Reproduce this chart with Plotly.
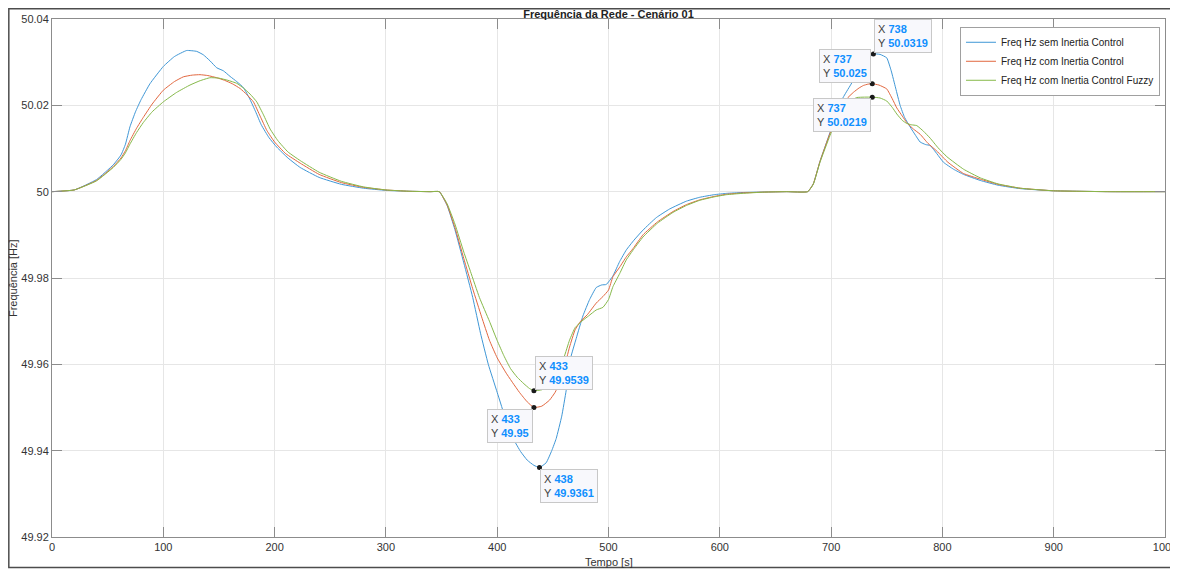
import plotly.graph_objects as go

# Freq Hz sem Inertia Control
t_sem = [0, 20, 40, 55, 62, 66, 70, 75, 80, 88, 100, 110, 121, 130, 136, 142, 148, 154, 160, 166,
         172, 178, 183, 188, 195, 202, 212, 223, 240, 260, 280, 300, 320, 340, 348, 355, 362, 370, 378,
         385, 392, 400, 408, 415, 421, 427, 433, 438, 444, 449, 453, 458, 462, 466, 471, 477, 483,
         489, 494, 498, 504, 510, 516, 523, 531, 543, 555, 570, 582, 595, 606, 620, 636, 660, 679,
         684, 690, 699, 708, 713, 717, 722, 727, 732, 738, 744, 750, 754, 758, 762, 766, 771, 776,
         780, 785, 789, 795, 801, 810, 819, 834, 850, 870, 900, 950, 1000]
f_sem = [50.0000, 50.0004, 50.0028, 50.0062, 50.0085, 50.0110, 50.0150, 50.0185, 50.0213, 50.0250,
         50.0290, 50.0313, 50.0327, 50.0325, 50.0317, 50.0303, 50.0287, 50.0280, 50.0267, 50.0255,
         50.0241, 50.0213, 50.0185, 50.0155, 50.0125, 50.0103, 50.0078, 50.0056, 50.0033, 50.0017,
         50.0008, 50.0003, 50.0001, 50.0000, 50.0000, 49.9968, 49.9912, 49.9835, 49.9755, 49.9672, 49.9600,
         49.9535, 49.9470, 49.9425, 49.9398, 49.9378, 49.9366, 49.9361, 49.9372, 49.9400, 49.9428,
         49.9480, 49.9540, 49.9615, 49.9660, 49.9712, 49.9750, 49.9778, 49.9784, 49.9785, 49.9805,
         49.9838, 49.9865, 49.9888, 49.9911, 49.9940, 49.9960, 49.9978, 49.9987, 49.9993, 49.9996,
         49.9998, 49.9999, 50.0000, 50.0000, 50.0018, 50.0070, 50.0137, 50.0205, 50.0228, 50.0245,
         50.0267, 50.0290, 50.0306, 50.0319, 50.0318, 50.0310, 50.0280, 50.0240, 50.0200, 50.0172,
         50.0150, 50.0130, 50.0115, 50.0109, 50.0107, 50.0088, 50.0068, 50.0052, 50.0040, 50.0026,
         50.0015, 50.0007, 50.0002, 50.0000, 50.0000]

# Freq Hz com Inertia Control
t_com = [0, 20, 40, 55, 62, 66, 70, 76, 82, 90, 100, 110, 118, 126, 133, 140, 148, 155, 162, 169,
         175, 181, 187, 193, 200, 210, 223, 240, 260, 280, 300, 320, 340, 348, 355, 362, 370, 378, 386,
         393, 400, 408, 414, 420, 427, 433, 440, 447, 452, 456, 460, 465, 470, 475, 481, 489, 495,
         500, 504, 510, 516, 522, 531, 544, 558, 570, 582, 595, 606, 620, 640, 660, 679, 684, 690,
         699, 708, 714, 720, 725, 729, 733, 737, 743, 750, 755, 759, 764, 768, 774, 780, 787, 795,
         805, 819, 834, 850, 870, 900, 950, 1000]
f_com = [50.0000, 50.0004, 50.0026, 50.0058, 50.0078, 50.0095, 50.0118, 50.0147, 50.0172, 50.0203,
         50.0235, 50.0255, 50.0266, 50.0270, 50.0271, 50.0269, 50.0264, 50.0258, 50.0250, 50.0239,
         50.0225, 50.0208, 50.0175, 50.0142, 50.0115, 50.0088, 50.0066, 50.0040, 50.0021, 50.0010,
         50.0004, 50.0001, 50.0000, 50.0000, 49.9969, 49.9917, 49.9845, 49.9775, 49.9710, 49.9656, 49.9615,
         49.9580, 49.9557, 49.9535, 49.9513, 49.9500, 49.9503, 49.9517, 49.9535, 49.9557, 49.9590,
         49.9640, 49.9680, 49.9700, 49.9715, 49.9742, 49.9757, 49.9772, 49.9803, 49.9825, 49.9849,
         49.9868, 49.9900, 49.9930, 49.9954, 49.9970, 49.9981, 49.9989, 49.9994, 49.9997, 49.9999,
         50.0000, 50.0000, 50.0018, 50.0070, 50.0135, 50.0192, 50.0215, 50.0230, 50.0240, 50.0246,
         50.0249, 50.0250, 50.0247, 50.0238, 50.0215, 50.0194, 50.0175, 50.0160, 50.0145, 50.0133,
         50.0112, 50.0094, 50.0068, 50.0042, 50.0029, 50.0017, 50.0008, 50.0002, 50.0000, 50.0000]

# Freq Hz com Inertia Control Fuzzy
t_fuzzy = [0, 20, 40, 55, 62, 66, 70, 76, 82, 90, 100, 112, 124, 133, 142, 150, 158, 166, 172, 178,
           184, 190, 196, 203, 212, 223, 240, 260, 280, 300, 320, 340, 348, 355, 362, 370, 376, 384, 393,
           400, 406, 412, 418, 424, 429, 433, 440, 446, 450, 455, 460, 465, 470, 476, 482, 489, 495,
           500, 504, 510, 516, 523, 531, 544, 558, 570, 582, 595, 606, 620, 640, 660, 679, 684, 690,
           699, 708, 715, 723, 730, 737, 744, 750, 755, 759, 764, 768, 772, 777, 783, 789, 796, 804,
           819, 834, 850, 870, 900, 950, 1000]
f_fuzzy = [50.0000, 50.0004, 50.0025, 50.0056, 50.0075, 50.0090, 50.0110, 50.0137, 50.0160, 50.0185,
           50.0208, 50.0230, 50.0247, 50.0257, 50.0264, 50.0263, 50.0258, 50.0251, 50.0240, 50.0226,
           50.0208, 50.0178, 50.0145, 50.0118, 50.0092, 50.0072, 50.0045, 50.0024, 50.0011, 50.0004,
           50.0001, 50.0000, 50.0000, 49.9972, 49.9925, 49.9860, 49.9815, 49.9755, 49.9700, 49.9655, 49.9620,
           49.9590, 49.9570, 49.9555, 49.9544, 49.9539, 49.9541, 49.9550, 49.9562, 49.9585, 49.9616,
           49.9656, 49.9685, 49.9700, 49.9712, 49.9726, 49.9732, 49.9750, 49.9780, 49.9810, 49.9842,
           49.9868, 49.9895, 49.9927, 49.9952, 49.9968, 49.9980, 49.9988, 49.9993, 49.9996, 49.9999,
           50.0000, 50.0000, 50.0017, 50.0068, 50.0130, 50.0185, 50.0206, 50.0218, 50.0219, 50.0219,
           50.0217, 50.0210, 50.0195, 50.0180, 50.0165, 50.0158, 50.0155, 50.0153, 50.0140, 50.0124,
           50.0102, 50.0081, 50.0052, 50.0032, 50.0018, 50.0008, 50.0002, 50.0000, 50.0000]

series_names = ["Freq Hz sem Inertia Control", "Freq Hz com Inertia Control",
                "Freq Hz com Inertia Control Fuzzy"]
series_colors = ["#3f97d6", "#e2673f", "#86b94a"]

# data tips (x, y, box placement)
tip_x = [738, 737, 737, 433, 433, 438]
tip_y = [50.0319, 50.025, 50.0219, 49.9539, 49.95, 49.9361]
tip_labels = ["738", "737", "737", "433", "433", "438"]
tip_vals = ["50.0319", "50.025", "50.0219", "49.9539", "49.95", "49.9361"]
tip_pos = [("left", "bottom"), ("right", "bottom"), ("right", "top"),
           ("left", "bottom"), ("right", "top"), ("left", "top")]

y_ticks = [49.92, 49.94, 49.96, 49.98, 50.0, 50.02, 50.04]
y_ticktext = ["49.92", "49.94", "49.96", "49.98", "50", "50.02", "50.04"]

FONT = "Liberation Sans, Arial, sans-serif"
TXT = "#333333"

fig = go.Figure()
for t, f, name, color in zip([t_sem, t_com, t_fuzzy], [f_sem, f_com, f_fuzzy], series_names, series_colors):
    fig.add_trace(go.Scatter(x=t, y=f, mode="lines", name=name,
                             line=dict(color=color, width=1, shape="spline", smoothing=0.4)))

fig.add_trace(go.Scatter(x=tip_x, y=tip_y, mode="markers", showlegend=False,
                         marker=dict(color="#1a1a1a", size=5)))

for x, y, lx, vy, (xa, ya) in zip(tip_x, tip_y, tip_labels, tip_vals, tip_pos):
    txt = (f"<span style='color:#404040'>X</span> <span style='color:#0f8fff'><b>{lx}</b></span><br>"
           f"<span style='color:#404040'>Y</span> <span style='color:#0f8fff'><b>{vy}</b></span>")
    fig.add_annotation(x=x, y=y, text=txt, showarrow=False, xanchor=xa, yanchor=ya, align="left",
                       xshift=1 if xa == "left" else -1, yshift=1 if ya == "bottom" else -1,
                       bgcolor="#f8f8fc", bordercolor="#c8c8c8", borderwidth=1, borderpad=3,
                       font=dict(family=FONT, size=11))

axis_common = dict(showline=True, linecolor="#8c8c8c", linewidth=1, mirror="allticks",
                   ticks="inside", ticklen=10, tickcolor="#8c8c8c", showgrid=True,
                   gridcolor="#e6e6e6", zeroline=False, automargin=False,
                   tickfont=dict(family=FONT, size=11, color=TXT))

fig.update_xaxes(range=[0, 1000], dtick=100, **axis_common)
fig.update_yaxes(range=[49.92, 50.04], tickvals=y_ticks, ticktext=y_ticktext, **axis_common)

# axis titles
fig.add_annotation(text="Tempo [s]", xref="paper", yref="paper", x=0.5, y=-0.048,
                   showarrow=False, xanchor="center", yanchor="middle",
                   font=dict(family=FONT, size=11, color=TXT))
fig.add_annotation(text="Frequência [Hz]", xref="paper", yref="paper", x=-0.035, y=0.5,
                   showarrow=False, textangle=-90, xanchor="center", yanchor="middle",
                   font=dict(family=FONT, size=11, color=TXT))

# figure frame
fig.add_shape(type="rect", xref="paper", yref="paper", x0=-0.0388, x1=1.03, y0=-0.059, y1=1.0198,
              line=dict(color="#4d4d4d", width=1.5), layer="above")

# page body adds an 8px offset, so the figure is 8px smaller than the window
fig.update_layout(
    width=1170, height=563,
    margin=dict(l=44, r=13, t=11, b=34, autoexpand=False),
    paper_bgcolor="white", plot_bgcolor="white",
    title=dict(text="<b>Frequência da Rede - Cenário 01</b>", x=0.5, xref="paper",
               y=1 - 2 / 563, yanchor="top", font=dict(family=FONT, size=11, color="#222222")),
    font=dict(family=FONT),
    legend=dict(x=0.9955, y=0.985, xanchor="right", yanchor="top", bgcolor="white",
                bordercolor="#a0a0a0", borderwidth=1, font=dict(family=FONT, size=10, color="#222222"),
                tracegroupgap=0, itemwidth=30),
    showlegend=True,
)

fig.write_html("out.html")
